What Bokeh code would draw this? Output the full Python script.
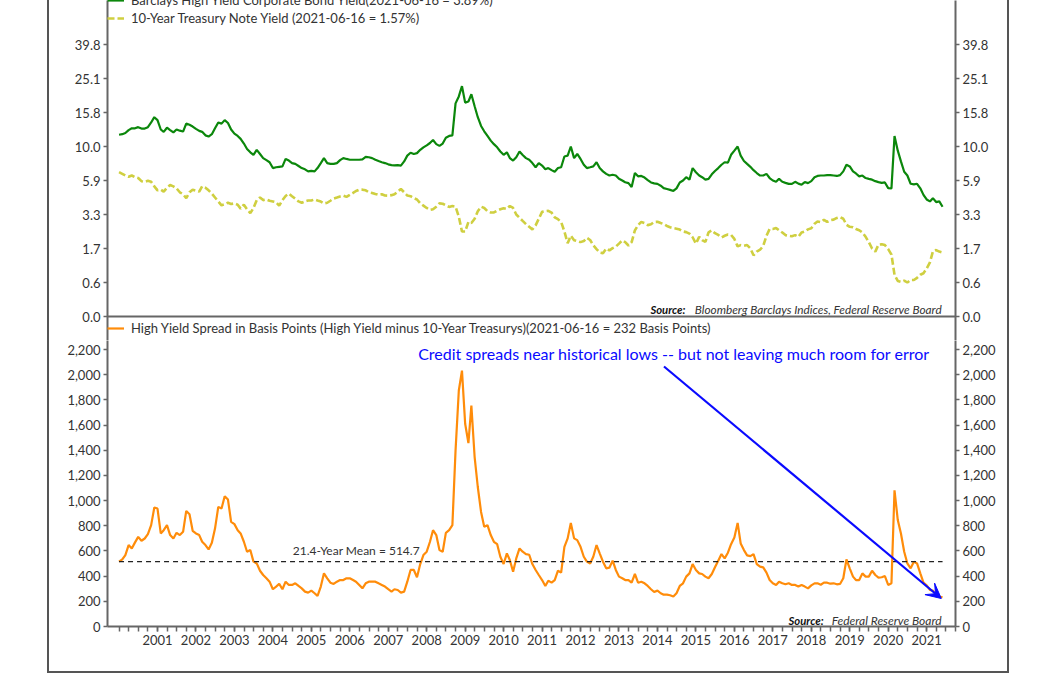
import numpy as np
import pandas as pd
from bokeh.plotting import figure
from bokeh.models import (FixedTicker, LinearAxis, Range1d, Legend, LegendItem,
                          Label, Arrow, VeeHead, NumeralTickFormatter, Span)
from bokeh.layouts import column
from bokeh.embed import file_html
from bokeh.resources import INLINE

# ---------------- data (monthly) ----------------
START = "2000-01-01"

HY_YIELD = [
    12.0, 12.1, 12.3, 12.8, 13.1, 13.1, 13.3, 13.06, 13.06, 13.3, 14.1, 15.0,
    14.5, 12.9, 12.5, 13.2, 12.8, 12.4, 12.9, 12.7, 12.55, 13.9, 13.7, 13.4,
    13.0, 12.66, 12.5, 11.9, 11.7, 12.1, 13.1, 14.1, 13.9, 14.5, 14.0, 12.9,
    12.2, 11.8, 11.3, 10.5, 9.7, 9.3, 9.0, 9.6, 9.1, 8.6, 8.35, 8.1,
    7.4, 7.5, 7.55, 7.6, 8.5, 8.3, 8.0, 7.9, 7.65, 7.4, 7.25, 7.0,
    7.05, 7.0, 7.4, 8.0, 8.6, 8.0, 7.9, 7.9, 8.0, 8.35, 8.6, 8.5,
    8.4, 8.4, 8.4, 8.4, 8.45, 8.75, 8.7, 8.6, 8.4, 8.25, 8.1, 8.0,
    7.85, 7.75, 7.72, 7.76, 7.7, 8.2, 8.9, 9.25, 9.1, 9.2, 9.6, 9.9,
    10.2, 10.6, 11.1, 10.4, 10.1, 10.5, 11.5, 11.8, 11.9, 18.3, 20.2, 23.0,
    18.5, 18.8, 20.8, 17.5, 15.0, 13.5, 12.6, 11.8, 11.0, 10.4, 9.9, 9.4,
    9.0, 9.3, 8.6, 8.3, 8.7, 9.4, 8.98, 8.6, 8.4, 8.0, 7.5, 8.0,
    7.7, 7.25, 7.4, 7.15, 6.95, 7.4, 7.5, 8.8, 8.9, 10.0, 8.6, 9.1,
    8.5, 7.8, 7.4, 7.5, 7.6, 8.1, 7.4, 7.0, 6.7, 6.5, 6.6, 6.5,
    6.1, 5.9, 5.77, 5.7, 5.4, 6.8, 6.4, 6.45, 6.25, 5.95, 5.75, 5.68,
    5.64, 5.5, 5.32, 5.25, 5.18, 5.1, 5.3, 5.75, 5.9, 6.3, 6.0, 7.4,
    6.9, 6.5, 6.3, 6.0, 6.1, 6.65, 7.05, 7.4, 7.8, 8.1, 8.05, 9.0,
    9.5, 10.0, 8.9, 8.25, 7.9, 7.55, 7.15, 6.8, 6.5, 6.5, 6.7, 6.2,
    5.9, 5.8, 6.1, 5.8, 5.72, 5.64, 5.64, 5.8, 5.66, 5.58, 5.78, 5.7,
    5.85, 6.3, 6.45, 6.5, 6.5, 6.55, 6.55, 6.5, 6.45, 6.55, 7.0, 7.8,
    7.6, 7.0, 6.75, 6.4, 6.5, 6.2, 6.1, 6.0, 5.85, 5.78, 5.72, 5.75,
    5.32, 5.3, 11.8, 9.5, 8.2, 6.95, 6.5, 5.65, 5.6, 5.65, 5.3, 4.8,
    4.45, 4.3, 4.55, 4.25, 4.3, 3.89,
]

TSY_YIELD = [
    6.9, 6.7, 6.5, 6.35, 6.5, 6.3, 6.2, 5.85, 5.8, 5.88, 5.8, 5.45,
    5.15, 5.2, 5.05, 5.35, 5.55, 5.45, 5.3, 5.0, 4.85, 4.55, 5.0, 5.2,
    5.13, 5.05, 5.45, 5.35, 5.15, 4.9, 4.6, 4.3, 4.0, 4.08, 4.2, 4.1,
    4.15, 4.05, 3.75, 4.05, 3.7, 3.4, 3.8, 4.4, 4.6, 4.4, 4.45, 4.35,
    4.3, 4.24, 3.98, 4.4, 4.72, 4.9, 4.7, 4.5, 4.3, 4.2, 4.3, 4.37,
    4.37, 4.45, 4.37, 4.29, 4.15, 4.2, 4.35, 4.52, 4.6, 4.68, 4.74, 4.65,
    4.8, 4.95, 5.1, 5.2, 5.2, 5.15, 5.0, 4.95, 4.87, 4.8, 4.85, 4.75,
    4.74, 4.78, 4.85, 5.05, 5.25, 5.0, 4.75, 4.7, 4.55, 4.45, 4.15, 3.98,
    3.8, 3.65, 3.7, 3.9, 4.15, 4.12, 4.0, 3.88, 3.95, 3.9, 3.2, 2.5,
    2.5, 2.95, 2.9, 3.1, 3.55, 3.9, 3.8, 3.55, 3.45, 3.46, 3.6, 3.7,
    3.78, 3.73, 3.95, 3.8, 3.3, 3.15, 3.0, 2.85, 2.72, 2.6, 2.79, 3.1,
    3.5, 3.55, 3.58, 3.45, 3.17, 3.08, 2.95, 2.5, 1.95, 2.3, 2.09, 2.05,
    2.0, 2.05, 2.2, 2.1, 1.85, 1.68, 1.57, 1.55, 1.7, 1.64, 1.72, 1.79,
    1.93, 2.08, 2.0, 1.84, 2.0, 2.55, 2.8, 2.95, 2.9, 2.8, 2.84, 2.95,
    2.96, 2.9, 2.85, 2.76, 2.7, 2.66, 2.63, 2.59, 2.5, 2.47, 2.4, 2.23,
    1.93, 2.25, 2.09, 2.01, 2.46, 2.55, 2.42, 2.34, 2.22, 2.3, 2.36, 2.34,
    2.15, 1.8, 1.86, 1.83, 1.86, 1.71, 1.48, 1.6, 1.66, 1.82, 2.3, 2.62,
    2.62, 2.66, 2.56, 2.45, 2.33, 2.3, 2.28, 2.33, 2.25, 2.45, 2.5, 2.6,
    2.65, 2.86, 2.97, 2.94, 3.05, 2.95, 3.03, 3.06, 3.14, 3.18, 3.1, 2.82,
    2.72, 2.7, 2.62, 2.56, 2.45, 2.25, 2.0, 1.7, 1.6, 1.88, 1.9, 1.86,
    1.68, 1.5, 0.85, 0.65, 0.62, 0.66, 0.6, 0.68, 0.68, 0.75, 0.85, 0.9,
    1.05, 1.25, 1.6, 1.65, 1.6, 1.57,
]

SPREAD_BP = [
    515, 533, 567, 647, 620, 668, 712, 681, 699, 734, 805, 945,
    937, 739, 765, 805, 726, 699, 744, 726, 752, 918, 892, 760,
    739, 726, 673, 647, 612, 665, 778, 950, 937, 1035, 1008, 831,
    813, 765, 739, 673, 594, 607, 515, 501, 443, 409, 383, 356,
    296, 317, 338, 296, 356, 330, 330, 343, 322, 303, 277, 269,
    285, 264, 243, 317, 422, 383, 348, 338, 356, 369, 369, 383,
    383, 369, 356, 330, 303, 343, 356, 356, 356, 343, 330, 317,
    296, 277, 296, 290, 269, 277, 356, 449, 449, 391, 496, 567,
    594, 673, 765, 726, 607, 594, 744, 765, 805, 1399, 1874, 2032,
    1610, 1457, 1755, 1346, 1108, 910, 792, 805, 726, 673, 654, 554,
    496, 581, 528, 435, 541, 620, 594, 575, 570, 496, 449, 409,
    369, 322, 364, 348, 369, 443, 428, 633, 700, 823, 700, 686,
    633, 554, 515, 501, 554, 647, 581, 515, 462, 467, 523, 449,
    396, 383, 369, 369, 348, 417, 348, 356, 343, 322, 296, 274,
    285, 264, 253, 253, 248, 238, 264, 322, 343, 396, 422, 496,
    449, 422, 417, 396, 383, 417, 470, 523, 575, 541, 586, 654,
    707, 823, 660, 607, 565, 559, 575, 496, 475, 470, 428, 369,
    343, 330, 356, 343, 335, 343, 330, 330, 317, 330, 317, 303,
    327, 343, 343, 332, 348, 348, 340, 343, 335, 338, 383, 533,
    462, 396, 369, 369, 422, 396, 396, 443, 409, 388, 391, 401,
    330, 343, 1082, 845, 739, 594, 501, 462, 515, 501, 422, 348,
    327, 290, 285, 251, 238, 232,
]

MEAN_SPREAD = 514.7

TOP_TICK_VALUES = [0.0, 0.6, 1.7, 3.3, 5.9, 10.0, 15.8, 25.1, 39.8]
TOP_TICK_LABELS = ["0.0", "0.6", "1.7", "3.3", "5.9", "10.0", "15.8", "25.1", "39.8"]
SPREAD_TICKS = [0, 200, 400, 600, 800, 1000, 1200, 1400, 1600, 1800, 2000, 2200]
YEAR_TICKS = list(range(2001, 2022))

HY_LABEL = "Barclays High Yield Corporate Bond Yield(2021-06-16 = 3.89%)"
TSY_LABEL = "10-Year Treasury Note Yield (2021-06-16 = 1.57%)"
SPREAD_LABEL = ("High Yield Spread in Basis Points (High Yield minus 10-Year Treasurys)"
                "(2021-06-16 = 232 Basis Points)")

# ---------------- derived ----------------
dates = pd.date_range(START, periods=len(SPREAD_BP), freq="MS")
t = np.asarray(dates.year + (dates.dayofyear - 1) / 365.25, dtype=float)
tick_pos = list(range(len(TOP_TICK_VALUES)))
hy_pos = np.interp(HY_YIELD, TOP_TICK_VALUES, tick_pos)
tsy_pos = np.interp(TSY_YIELD, TOP_TICK_VALUES, tick_pos)

FONT = "Lato"
GREEN = "#0b870b"
YELLOW = "#cfcf40"
ORANGE = "#ff8c0a"
BLUE = "#0a0aff"
AXIS_C = "#666666"
TEXT_C = "#333333"

X0, X1 = 1999.70, 2021.75
FRAME_W = 848
LEFT_B = 58
RIGHT_B = 52
W = LEFT_B + FRAME_W + RIGHT_B

PX_PER_K = 34.0          # top panel: pixels per tick step
TOP_ZERO_PX = 316        # pixel row of the 0.0 tick
SPLIT_PX = 340           # where the lower figure starts
BOT_ZERO_PX = 626
px_per_bp = (626 - 349) / 2200.0


def style_axis(ax):
    ax.axis_line_color = AXIS_C
    ax.axis_line_width = 2
    ax.major_tick_line_color = AXIS_C
    ax.major_tick_line_width = 1.5
    ax.minor_tick_line_color = AXIS_C
    ax.major_tick_out = 4
    ax.major_tick_in = 0
    ax.minor_tick_out = 0
    ax.minor_tick_in = 0
    ax.major_label_text_font = FONT
    ax.major_label_text_font_size = "13px"
    ax.major_label_text_color = TEXT_C
    ax.major_label_standoff = 3


def top_k(py):
    return (TOP_ZERO_PX - py) / PX_PER_K


# ---------------- top panel ----------------
p1 = figure(width=W, height=SPLIT_PX, output_backend="svg", toolbar_location=None,
            x_range=Range1d(X0, X1), y_range=Range1d(top_k(SPLIT_PX), top_k(0)),
            min_border_left=LEFT_B, min_border_right=RIGHT_B,
            min_border_top=0, min_border_bottom=0)
p1.grid.visible = False
p1.outline_line_color = None
p1.xaxis.visible = False

r_hy = p1.line(t, hy_pos, line_color=GREEN, line_width=2.2)
r_tsy = p1.line(t, tsy_pos, line_color=YELLOW, line_width=2.6, line_dash="7 3")
p1.add_layout(Span(location=0, dimension="width", line_color=AXIS_C, line_width=2))

p1.yaxis.ticker = FixedTicker(ticks=tick_pos)
p1.yaxis.major_label_overrides = {i: s for i, s in enumerate(TOP_TICK_LABELS)}
style_axis(p1.yaxis[0])
ry1 = LinearAxis(ticker=FixedTicker(ticks=tick_pos),
                 major_label_overrides={i: s for i, s in enumerate(TOP_TICK_LABELS)})
style_axis(ry1)
p1.add_layout(ry1, "right")

LEG_KW = dict(orientation="vertical", border_line_color=None,
              background_fill_alpha=0, padding=0, spacing=0, margin=0,
              label_text_font=FONT, label_text_font_size="13px", label_text_color=TEXT_C,
              glyph_width=17, glyph_height=18, label_height=18, label_standoff=7)

leg1 = Legend(items=[LegendItem(label=HY_LABEL, renderers=[r_hy]),
                     LegendItem(label=TSY_LABEL, renderers=[r_tsy])],
              location=(0, SPLIT_PX - 27), **LEG_KW)
p1.add_layout(leg1)

# legend of the lower panel; its key line is a renderer with no visible points
r_sp_key = p1.line(x=[np.nan, np.nan], y=[np.nan, np.nan], line_color=ORANGE, line_width=2.2)
leg2 = Legend(items=[LegendItem(label=SPREAD_LABEL, renderers=[r_sp_key], index=0)],
              location=(0, SPLIT_PX - 337), **LEG_KW)
p1.add_layout(leg2)

p1.add_layout(Label(x=2021.39, y=top_k(309), text="Bloomberg Barclays Indices, Federal Reserve Board",
                    text_align="right", text_baseline="middle", text_font=FONT,
                    text_font_style="italic", text_font_size="11.8px", text_color=TEXT_C))
p1.add_layout(Label(x=2014.73, y=top_k(309), text="Source:",
                    text_align="right", text_baseline="middle", text_font=FONT,
                    text_font_style="bold italic", text_font_size="11.3px", text_color="#111111"))

# ---------------- bottom panel ----------------
BOT_H = 671 - SPLIT_PX
BOT_FRAME = BOT_ZERO_PX - SPLIT_PX
p2 = figure(width=W, height=BOT_H, output_backend="svg", toolbar_location=None,
            x_range=p1.x_range, y_range=Range1d(0, BOT_FRAME / px_per_bp),
            min_border_left=LEFT_B, min_border_right=RIGHT_B,
            min_border_top=0, min_border_bottom=BOT_H - BOT_FRAME)
p2.grid.visible = False
p2.outline_line_color = None

p2.line(t, SPREAD_BP, line_color=ORANGE, line_width=2.2)
p2.line([t[0], t[-1]], [MEAN_SPREAD, MEAN_SPREAD], line_color="#222222",
        line_width=1.3, line_dash="5 4")

p2.yaxis.ticker = FixedTicker(ticks=SPREAD_TICKS)
p2.yaxis.formatter = NumeralTickFormatter(format="0,0")
style_axis(p2.yaxis[0])
ry2 = LinearAxis(ticker=FixedTicker(ticks=SPREAD_TICKS), formatter=NumeralTickFormatter(format="0,0"))
style_axis(ry2)
p2.add_layout(ry2, "right")

quarters = [2000 + q / 4 for q in range(0, 88)]
p2.xaxis.ticker = FixedTicker(ticks=YEAR_TICKS, minor_ticks=quarters)
style_axis(p2.xaxis[0])
p2.xaxis.major_tick_out = 5
p2.xaxis.minor_tick_out = 5
p2.xaxis.minor_tick_line_width = 1.5
p2.xaxis.major_label_standoff = 3


def bot_y(py):
    return (BOT_ZERO_PX - py) / px_per_bp


p2.add_layout(Label(x=2014.43, y=bot_y(353),
                    text="Credit spreads near historical lows -- but not leaving much room for error",
                    text_align="center", text_baseline="middle", text_font=FONT,
                    text_font_size="16px", text_color=BLUE))
p2.add_layout(Arrow(x_start=2014.17, y_start=bot_y(366), x_end=2021.38, y_end=bot_y(598),
                    line_color=BLUE, line_width=2.2,
                    end=VeeHead(size=15, fill_color=BLUE, line_color=BLUE)))
p2.add_layout(Label(x=2006.17, y=bot_y(550), text="21.4-Year Mean = 514.7",
                    text_align="center", text_baseline="middle", text_font=FONT,
                    text_font_size="12px", text_color=TEXT_C))
p2.add_layout(Label(x=2021.39, y=bot_y(620), text="Federal Reserve Board",
                    text_align="right", text_baseline="middle", text_font=FONT,
                    text_font_style="italic", text_font_size="12px", text_color=TEXT_C))
p2.add_layout(Label(x=2018.32, y=bot_y(620), text="Source:",
                    text_align="right", text_baseline="middle", text_font=FONT,
                    text_font_style="bold italic", text_font_size="11.3px", text_color="#111111"))

layout = column(p1, p2, styles={"margin-left": "47px",
                                "border-left": "2px solid #555555",
                                "border-right": "2px solid #555555",
                                "border-bottom": "2px solid #555555"})

open("out.html", "w").write(file_html(layout, INLINE))
